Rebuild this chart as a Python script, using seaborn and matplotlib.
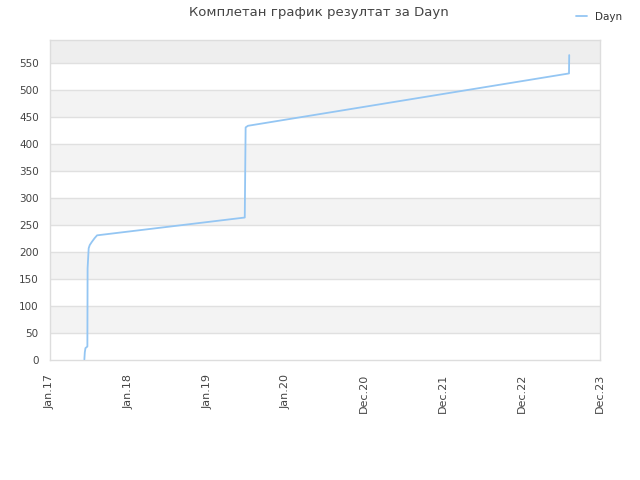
import pandas as pd
import matplotlib
matplotlib.use("Agg")
import matplotlib.pyplot as plt
import seaborn as sns

# score history
dates = ["2017-06-10", "2017-06-12", "2017-06-15", "2017-06-24", "2017-06-25",
         "2017-06-30", "2017-07-05", "2017-07-15", "2017-07-28", "2017-08-08",
         "2019-06-25", "2019-06-29", "2019-07-10", "2023-08-09", "2023-08-10"]
scores = [1, 14, 22, 25, 170,
          207, 213, 219, 226, 231,
          264, 431, 434, 531, 565]

tick_dates = ["2017-01-01", "2018-01-01", "2019-01-01", "2020-01-01",
              "2020-12-31", "2021-12-31", "2022-12-31", "2023-12-31"]
tick_labels = ["Jan.17", "Jan.18", "Jan.19", "Jan.20", "Dec.20", "Dec.21", "Dec.22", "Dec.23"]
y_ticks = list(range(0, 551, 50))

player = "Dayn"
title = "Комплетан график резултат за Dayn"

df = pd.DataFrame({"date": pd.to_datetime(dates), "score": scores})

sns.set_style("white")
plt.rcParams["font.family"] = ["DejaVu Sans"]

fig = plt.figure(figsize=(6.4, 4.8), dpi=100)
ax = fig.add_axes([0.078, 0.25, 0.8595, 0.6667])

ymax = 593
# alternating bands
for lo in range(50, 550, 100):
    ax.axhspan(lo, lo + 50, color="#f3f3f3", zorder=0, lw=0)
ax.axhspan(550, ymax, color="#eeeeee", zorder=0, lw=0)
for y in y_ticks[1:]:
    ax.axhline(y, color="#e0e0e0", lw=1, zorder=1)

sns.lineplot(data=df, x="date", y="score", ax=ax, color="#94c6f3",
             linewidth=1.3, label=player, zorder=3, sort=True)

ax.set_xlim(pd.Timestamp(tick_dates[0]), pd.Timestamp(tick_dates[-1]))
ax.set_ylim(0, ymax)
ax.set_xticks(pd.to_datetime(tick_dates))
ax.set_xticklabels(tick_labels, rotation=90, fontsize=8, color="#444444")
ax.set_yticks(y_ticks)
ax.set_yticklabels([str(v) for v in y_ticks], fontsize=7.5, color="#444444")
ax.tick_params(length=0)
ax.tick_params(axis="x", pad=10)
ax.tick_params(axis="y", pad=8)
ax.set_xlabel("")
ax.set_ylabel("")
for s in ax.spines.values():
    s.set_color("#dddddd")
    s.set_linewidth(1)

ax.get_legend().remove()
handles, labels = ax.get_legend_handles_labels()
fig.legend(handles, labels, loc="upper right", bbox_to_anchor=(0.987, 0.995),
           frameon=False, fontsize=7.5, handlelength=1.0, handletextpad=0.8,
           labelcolor="#333333")

fig.suptitle(title, fontsize=9.5, color="#444444", y=0.988, x=0.498)

fig.savefig("out.png", dpi=100)
plt.close(fig)
